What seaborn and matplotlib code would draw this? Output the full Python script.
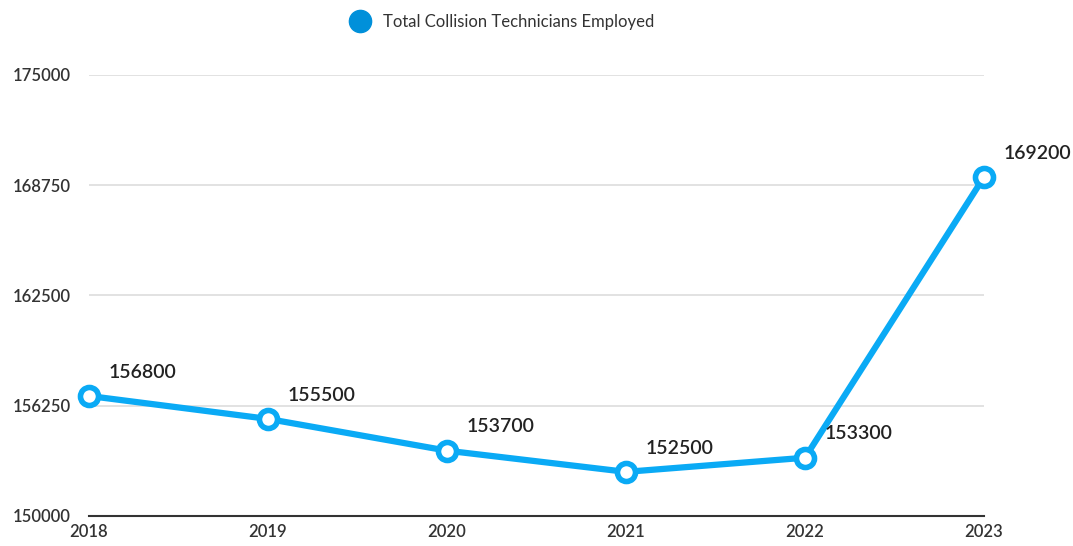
import matplotlib
matplotlib.use("Agg")
import matplotlib.pyplot as plt
from matplotlib.lines import Line2D
import seaborn as sns
import pandas as pd

years = ["2018", "2019", "2020", "2021", "2022", "2023"]
technicians = [156800, 155500, 153700, 152500, 153300, 169200]
yticks = [150000, 156250, 162500, 168750, 175000]
series_name = "Total Collision Technicians Employed"

sns.set_theme(style="white")
plt.rcParams["font.family"] = ["Lato", "DejaVu Sans"]

df = pd.DataFrame({"year": range(len(years)), "value": technicians})

fig = plt.figure(figsize=(10.73, 5.46), dpi=100)
ax = fig.add_axes([0.083, 0.055, 0.834, 0.808])

line_color = "#0AAAF5"
sns.lineplot(data=df, x="year", y="value", ax=ax, color=line_color, linewidth=4.5,
             marker="o", markersize=13, markerfacecolor="white",
             markeredgecolor=line_color, markeredgewidth=4, zorder=3, clip_on=False)

for i, v in enumerate(technicians):
    ax.annotate(f"{v}", (i, v), xytext=(14, 11), textcoords="offset points",
                ha="left", va="bottom", fontsize=14, color="#222222", fontweight="semibold")

ax.set_xlim(0, len(years) - 1)
ax.set_ylim(150000, 175000)
ax.set_yticks(yticks)
ax.set_yticklabels([str(t) for t in yticks])
ax.set_xticks(range(len(years)))
ax.set_xticklabels(years)
ax.tick_params(axis="both", labelsize=12, colors="#333333", length=0)
for lbl in ax.get_xticklabels() + ax.get_yticklabels():
    lbl.set_fontweight("semibold")
ax.tick_params(axis="y", pad=13)
ax.tick_params(axis="x", pad=6)
ax.set_xlabel("")
ax.set_ylabel("")
ax.grid(axis="y", color="#DDDDDD", linewidth=1.2)
for s in ["top", "right", "left"]:
    ax.spines[s].set_visible(False)
ax.spines["bottom"].set_color("#333333")
ax.spines["bottom"].set_linewidth(1.5)

handle = Line2D([], [], marker="o", linestyle="none", markersize=16,
                markerfacecolor="#0090DA", markeredgecolor="#0090DA")
fig.legend([handle], [series_name], loc="center", bbox_to_anchor=(0.465, 0.96),
           frameon=False, fontsize=12, labelcolor="#333333", handletextpad=0.4)

fig.savefig("out.png", dpi=100)
